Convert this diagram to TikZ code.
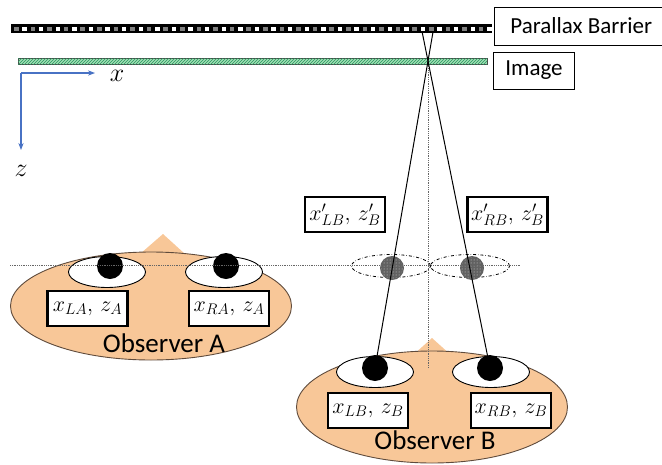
\RequirePackage{fix-cm}
\documentclass[tikz,border=0pt]{standalone}
\usepackage{fontspec}
\setmainfont{Carlito}
\usetikzlibrary{calc,patterns,shapes.geometric,arrows.meta}
\definecolor{skin}{RGB}{248,199,152}
\definecolor{skinline}{RGB}{95,75,60}
\definecolor{axisblue}{RGB}{72,114,196}
\definecolor{imggreen}{RGB}{160,224,180}
\definecolor{hatchgreen}{RGB}{40,150,95}
\begin{document}
\begin{tikzpicture}[x=1pt, y=-1pt,
    posbox/.style={draw, line width=2.2pt, fill=white, minimum width=80pt, minimum height=35pt, inner sep=1pt, font=\fontsize{22}{24}\selectfont},
    tagbox/.style={draw, line width=0.8pt, anchor=west, inner ysep=0pt, font=\fontsize{23}{26}\selectfont},
    head/.style={ellipse, draw=skinline, line width=0.9pt, fill=skin, inner sep=0pt},
    eye/.style={ellipse, draw, line width=0.9pt, fill=white, minimum width=77pt, minimum height=31pt, inner sep=0pt},
    pupil/.style={circle, fill=black, minimum size=26pt, inner sep=0pt},
    ghosteye/.style={ellipse, draw, dash dot, line width=0.8pt, minimum width=79pt, minimum height=23pt, inner sep=0pt},
    ghostpupil/.style={circle, fill=black!62, minimum size=24pt, inner sep=0pt},
    ray/.style={line width=1pt},
    guide/.style={densely dotted, line width=0.8pt, gray!80!black}]
      \useasboundingbox (0,0) rectangle (662,464);
      % barrier and image plane
      \fill[black] (11,24) rectangle (492,33);
      \foreach \i in {0,2,...,56} \fill[gray] ({14+8.3*\i},26.5) rectangle ++(4.5,4.5);
      \foreach \i in {1,3,...,57} \fill[white] ({14+8.3*\i},26.5) rectangle ++(4.5,4.5);
      \draw[fill=imggreen, draw=gray!60!black, line width=0.6pt] (18,58) rectangle (487,64);
      \fill[pattern=north east lines, pattern color=hatchgreen] (18,58) rectangle (487,64);
      \node[tagbox, minimum height=38pt, inner xsep=16pt] (barrier) at (494,26) {Parallax Barrier};
      \node[tagbox, minimum height=37pt, inner xsep=12pt] (image) at (493,70.5) {Image};
      % axes
      \coordinate (orig) at (21,73);
      \coordinate (xend) at (95,73);
      \coordinate (zend) at (21,150);
      \draw[axisblue, line width=1.2pt, -{Stealth[length=7pt]}] (orig) -- (xend);
      \draw[axisblue, line width=1.2pt, -{Stealth[length=7pt]}] (orig) -- (zend);
      \node[font=\fontsize{26}{28}\selectfont] (xlab) at (117,76) {$x$};
      \node[font=\fontsize{26}{28}\selectfont] (zlab) at (21,171) {$z$};
      % observer A
      \fill[skin] (163,234) -- (185,254) -- (140,254) -- cycle;
      \node[head, minimum width=281pt, minimum height=108pt] (headA) at (151,306) {};
      \node[eye] (eyeLA) at (107,272) {};
      \node[eye] (eyeRA) at (224,272) {};
      \node[pupil] (pLA) at (110,266) {};
      \node[pupil] (pRA) at (226,266) {};
      \node[posbox] (LA) at (87.5,308.5) {$x_{LA},\,z_A$};
      \node[posbox] (RA) at (229,308.5) {$x_{RA},\,z_A$};
      \node[font=\fontsize{27}{30}\selectfont] (obsA) at (164,343) {Observer A};
      % observer B
      \fill[skin] (432,338) -- (452,356) -- (412,356) -- cycle;
      \node[head, minimum width=271pt, minimum height=112pt] (headB) at (432,407) {};
      \node[eye] (eyeLB) at (375,372) {};
      \node[eye] (eyeRB) at (491,372) {};
      \node[pupil] (pLB) at (375,368) {};
      \node[pupil] (pRB) at (490,368) {};
      \node[posbox] (LB) at (368,410.5) {$x_{LB},\,z_B$};
      \node[posbox] (RB) at (511,410.5) {$x_{RB},\,z_B$};
      \node[font=\fontsize{27}{30}\selectfont] (obsB) at (435,440) {Observer B};
      % perceived eye positions
      \node[ghosteye] (gLB) at (391,266) {};
      \node[ghosteye] (gRB) at (470,266) {};
      \node[ghostpupil] (gpLB) at (392,268) {};
      \node[ghostpupil] (gpRB) at (472,268) {};
      \fill[pattern=dots, pattern color=white!70!gray] (gpLB) circle (11pt);
      \fill[pattern=dots, pattern color=white!70!gray] (gpRB) circle (11pt);
      \node[posbox] (gLBlab) at (345,214.5) {$x'_{LB},\,z'_B$};
      \node[posbox] (gRBlab) at (507.5,214.5) {$x'_{RB},\,z'_B$};
      % rays through the barrier slit
      \coordinate (cross) at (428,61);
      \draw[guide] (10,265) -- (520,265);
      \draw[guide] (cross) -- (428,368);
      \draw[ray] (pLB.center) -- ($(pLB.center)!1.091!(cross)$);
      \draw[ray] (pRB.center) -- ($(pRB.center)!1.091!(cross)$);
\end{tikzpicture}
\end{document}
